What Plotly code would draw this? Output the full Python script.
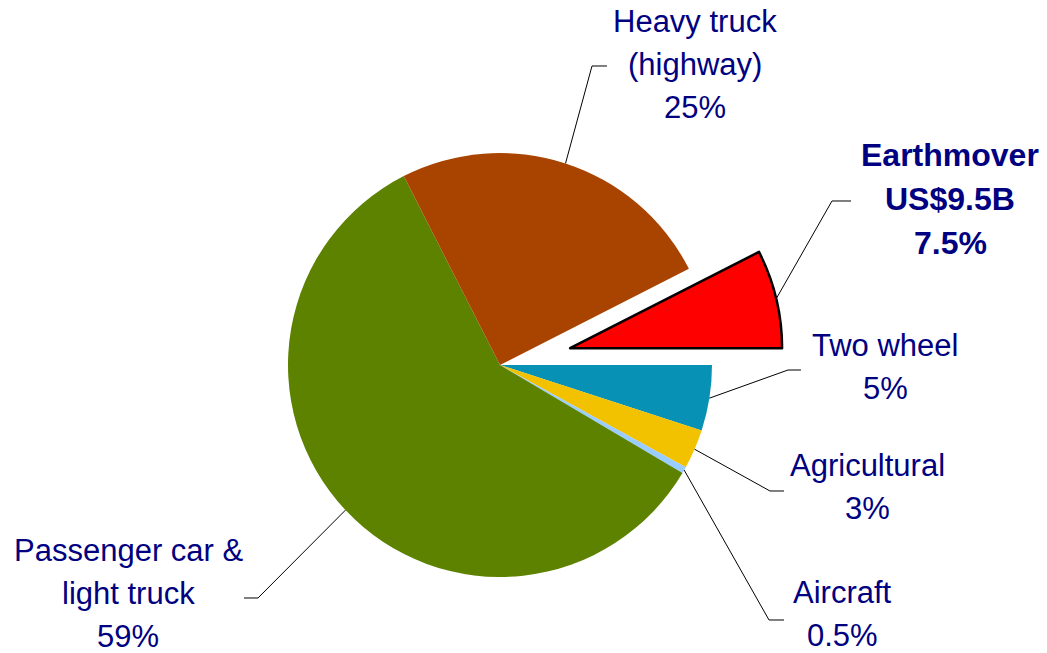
import math
import plotly.graph_objects as go

# ---------------- data ----------------
segments = ["Earthmover", "Two wheel", "Agricultural", "Aircraft",
            "Passenger car & light truck", "Heavy truck (highway)"]
shares = [7.5, 5, 3, 0.5, 59, 25]
label_names = [["Earthmover", "US$9.5B"], ["Two wheel"], ["Agricultural"],
               ["Aircraft"], ["Passenger car &", "light truck"],
               ["Heavy truck", "(highway)"]]
bold_flags = [True, False, False, False, False, False]
pulls = [0.34, 0, 0, 0, 0, 0]

# ---------------- styling / layout ----------------
colors = ["#ff0000", "#0791b4", "#f2c200", "#99ccff", "#5c8200", "#a84400"]
line_widths = [2.5, 0, 0, 0, 0, 0]
W, H = 1047, 653
CX, CY, R = 500, 365, 212          # pie centre / radius in pixels
START = 63                          # rotation (deg, clockwise from 12 o'clock)
TEXT_COLOR = "#000080"
FONT = "Liberation Sans, Arial, sans-serif"

# label block centres and elbow points (pixels)
label_xy = [(950, 199), (885, 367), (867, 487), (842, 614), (128, 593), (695, 64)]
elbow = [((832, 201), (851, 201)), ((788, 370), (801, 370)),
         ((770, 491), (784, 491)), ((769, 620), (784, 620)),
         ((258, 598), (244, 598)), ((592, 66), (607, 66))]

maxpull = max(pulls)
box = 2 * R * (1 + maxpull)
dom_x = [(CX - box / 2) / W, (CX + box / 2) / W]
dom_y = [1 - (CY + box / 2) / H, 1 - (CY - box / 2) / H]

fig = go.Figure(go.Pie(
    labels=segments, values=shares, sort=False, direction="clockwise",
    rotation=START, pull=pulls, textinfo="none", hoverinfo="label+percent",
    marker=dict(colors=colors, line=dict(color="black", width=line_widths)),
    domain=dict(x=dom_x, y=dom_y), showlegend=False,
))


def px2paper(x, y):
    return x / W, 1 - y / H


total = sum(shares)
cum = 0
shapes, annotations = [], []
for i, v in enumerate(shares):
    mid = math.radians(START + (cum + v / 2) / total * 360)
    cum += v
    ox = CX + pulls[i] * R * math.sin(mid)
    oy = CY - pulls[i] * R * math.cos(mid)
    ex = ox + R * math.sin(mid)
    ey = oy - R * math.cos(mid)
    (e1x, e1y), (e2x, e2y) = elbow[i]
    pts = [px2paper(ex, ey), px2paper(e1x, e1y), px2paper(e2x, e2y)]
    path = "M {:.5f},{:.5f} L {:.5f},{:.5f} L {:.5f},{:.5f}".format(
        pts[0][0], pts[0][1], pts[1][0], pts[1][1], pts[2][0], pts[2][1])
    shapes.append(dict(type="path", path=path, xref="paper", yref="paper",
                       line=dict(color="black", width=1)))
    lines = label_names[i] + ["{:g}%".format(v)]
    if bold_flags[i]:
        size, spacing = 32, 44
    else:
        size, spacing = 31, 43
    bx, by = label_xy[i]
    n = len(lines)
    for k, s in enumerate(lines):
        ly = by + (k - (n - 1) / 2) * spacing
        ax, ay = px2paper(bx, ly)
        annotations.append(dict(
            x=ax, y=ay, xref="paper", yref="paper",
            text=("<b>%s</b>" % s) if bold_flags[i] else s,
            showarrow=False, xanchor="center", yanchor="middle", align="center",
            font=dict(family=FONT, size=size, color=TEXT_COLOR)))

fig.update_layout(width=W, height=H, margin=dict(l=0, r=0, t=0, b=0),
                  paper_bgcolor="white", plot_bgcolor="white",
                  shapes=shapes, annotations=annotations)

fig.write_html("out.html", config={"displayModeBar": False},
               post_script="document.body.style.margin='0';"
                           "document.body.style.padding='0';")
